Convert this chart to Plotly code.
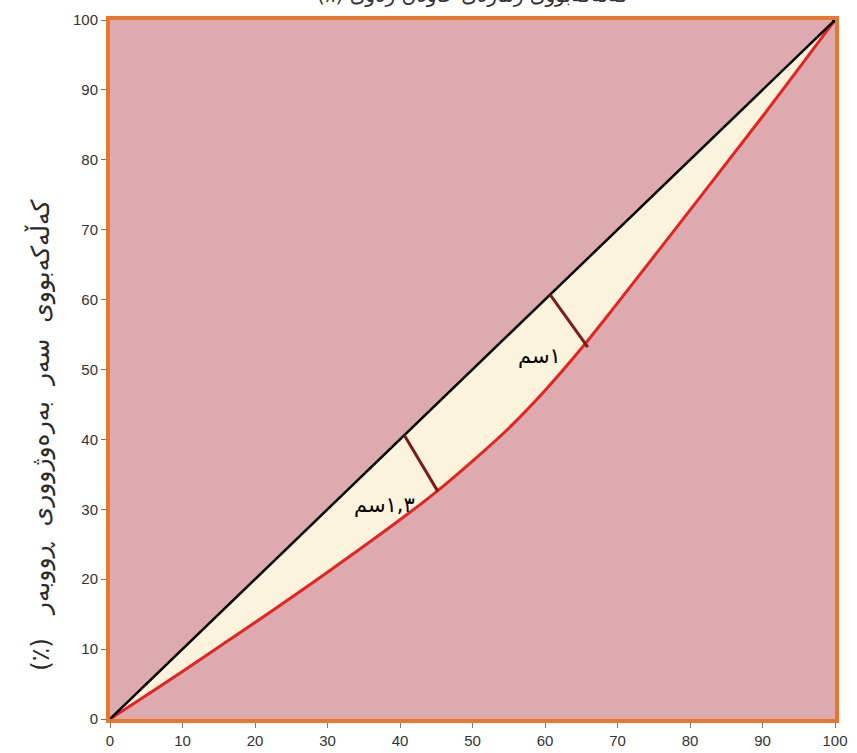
import plotly.graph_objects as go

# ---- data ----
cum_pop = [0, 10, 20, 30, 40, 45, 50, 55, 60, 65, 70, 80, 90, 100]
cum_area = [0, 6.8, 13.8, 21.0, 28.5, 32.5, 36.9, 41.6, 47.0, 53.0, 59.5, 72.8, 86.2, 100]
equality_x = [0, 100]
equality_y = [0, 100]
seg1_x = [40.6, 45.2]
seg1_y = [40.6, 32.6]
seg2_x = [60.7, 65.9]
seg2_y = [60.7, 53.2]
label_texts = ["١,٣سم", "١سم"]
label_x = [37.8, 59.2]
label_y = [30.6, 51.8]
ticks = [0, 10, 20, 30, 40, 50, 60, 70, 80, 90, 100]
y_title = "کەڵەکەبووی  سەر  بەرەوژووری  ڕووبەر   (٪)\u200f"
top_title = "کەڵەکەبووی ژمارەی خاوەن زەوی (٪)\u200f"

ORANGE = "#e8762d"
PINK = "#dcaaaf"
CREAM = "#fbf3dc"
RED = "#e3241f"
DARKRED = "#7d1b17"

fig = go.Figure()
fig.add_trace(go.Scatter(x=cum_pop, y=cum_area, mode="lines",
                         line=dict(width=0, color=RED, shape="spline", smoothing=1.0),
                         hoverinfo="skip", showlegend=False))
fig.add_trace(go.Scatter(x=equality_x, y=equality_y, mode="lines",
                         line=dict(width=0, color="black"), fill="tonexty",
                         fillcolor=CREAM, hoverinfo="skip", showlegend=False))
fig.add_trace(go.Scatter(x=cum_pop, y=cum_area, mode="lines",
                         line=dict(width=3, color=RED, shape="spline", smoothing=1.0),
                         showlegend=False))
fig.add_trace(go.Scatter(x=equality_x, y=equality_y, mode="lines",
                         line=dict(width=2.5, color="black"), showlegend=False))
fig.add_trace(go.Scatter(x=seg1_x, y=seg1_y, mode="lines",
                         line=dict(width=3, color=DARKRED), showlegend=False))
fig.add_trace(go.Scatter(x=seg2_x, y=seg2_y, mode="lines",
                         line=dict(width=3, color=DARKRED), showlegend=False))
fig.add_trace(go.Scatter(x=equality_x[-1:], y=equality_y[-1:], mode="markers",
                         marker=dict(size=6, color="black"), showlegend=False))

for t, xx, yy in zip(label_texts, label_x, label_y):
    fig.add_annotation(x=xx, y=yy, text=t, showarrow=False,
                       font=dict(family="DejaVu Sans", size=21, color="black"))

fig.add_annotation(xref="paper", yref="paper", x=0, y=0.405, xshift=-70,
                   xanchor="center", yanchor="middle",
                   text=y_title, textangle=-90, showarrow=False,
                   font=dict(family="DejaVu Sans", size=25, color="#2a2a2a"))

fig.add_annotation(xref="paper", yref="paper", x=0.5, y=1, yshift=11,
                   xanchor="center", yanchor="bottom", text=top_title, showarrow=False,
                   font=dict(family="DejaVu Sans", size=20, color="#333333"))

axis_common = dict(range=[0, 100], tickvals=ticks, ticks="outside", ticklen=5,
                   tickcolor="#777777", tickwidth=1, showgrid=False, zeroline=False,
                   showline=True, linecolor=ORANGE, linewidth=4, mirror=True,
                   automargin=False,
                   tickfont=dict(family="Arial", size=15, color="#333333"))

fig.update_xaxes(**axis_common)
fig.update_yaxes(**axis_common)

fig.update_layout(width=857, height=753, paper_bgcolor="white", plot_bgcolor=PINK,
                  margin=dict(l=110, r=22, t=20, b=34), showlegend=False)

fig.write_html("out.html", config={"displayModeBar": False},
               post_script="document.body.style.margin='0';document.body.style.overflow='hidden';")
